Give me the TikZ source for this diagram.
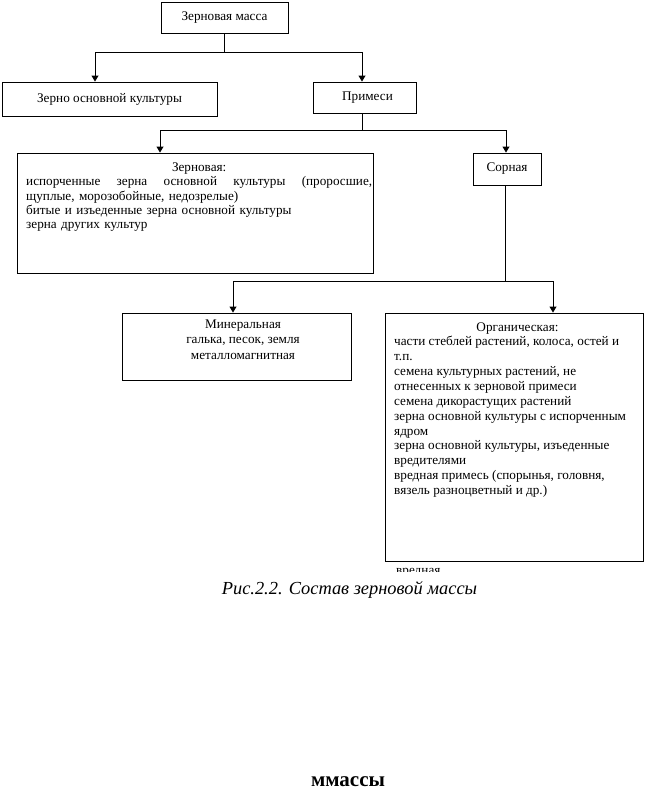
\documentclass[tikz,border=0pt]{standalone}
\usepackage{fontspec}
\setmainfont{Liberation Serif}
\usetikzlibrary{arrows.meta}
\begin{document}
\begin{tikzpicture}[x=1pt,y=-1pt,
  box/.style={draw,line width=0.9pt,inner sep=0pt,font=\fontsize{13.2}{14.3}\selectfont},
  txt/.style={inner sep=0pt,font=\fontsize{13.2}{14.3}\selectfont},
  conn/.style={line width=0.9pt},
  arr/.style={line width=0.9pt,-{Triangle[width=7pt,length=6pt]}}]
\useasboundingbox (0,0) rectangle (645,790);
% boxes
\node[box,minimum width=127pt,minimum height=31pt] (mass) at (224.5,17.5) {\raisebox{2pt}{Зерновая масса}};
\node[box,minimum width=215pt,minimum height=34pt] (main) at (109.5,99) {\raisebox{2pt}{Зерно основной культуры}};
\node[box,minimum width=103pt,minimum height=31pt] (imp) at (364.5,97.5) {\hspace*{6pt}Примеси};
\node[box,minimum width=356pt,minimum height=120pt] (grain) at (195,213) {};
\node[box,minimum width=68pt,minimum height=32pt] (weed) at (507,169) {\raisebox{2pt}{Сорная}};
\node[box,minimum width=229pt,minimum height=67pt] (min) at (236.5,346.5) {};
\node[box,minimum width=258pt,minimum height=248pt] (org) at (514,437) {};
% texts in boxes
\node[txt,anchor=north west,text width=346pt,align=left] (grainT) at (26,162.5)
  {\makebox[346pt]{Зерновая:}\\
   \makebox[346pt][l]{испорченные\hfill зерна\hfill основной\hfill культуры\hfill (проросшие,}\\
   щуплые, морозобойные, недозрелые)\\
   битые и изъеденные зерна основной культуры\\
   зерна других культур};
\node[txt,anchor=north,align=center,font=\fontsize{13.2}{15.5}\selectfont] (minT) at (243,319.5)
  {Минеральная\\галька, песок, земля\\металломагнитная};
\node[txt,anchor=base] (orgH) at (517.5,331.5) {Органическая:};
\node[txt,anchor=north west,align=left,font=\fontsize{13.2}{14.9}\selectfont] (orgT) at (394,336)
  {части стеблей растений, колоса, остей и\\
   т.п.\\
   семена культурных растений, не\\
   отнесенных к зерновой примеси\\
   семена дикорастущих растений\\
   зерна основной культуры с испорченным\\
   ядром\\
   зерна основной культуры, изъеденные\\
   вредителями\\
   вредная примесь (спорынья, головня,\\
   вязель разноцветный и др.)};
% clipped leftover text
\begin{scope}
  \clip (380,560) rectangle (470,571.5);
  \node[txt,anchor=base west] (cut) at (396,574) {вредная};
\end{scope}
% caption
\node[inner sep=0pt,font=\fontsize{18.4}{21}\selectfont\itshape] (cap) at (349.5,590) {Рис.2.2. Состав зерновой массы};
\node[inner sep=0pt,anchor=base,font=\fontsize{21}{24}\selectfont\bfseries] (mm) at (348,786.5) {ммассы};
% connectors
\coordinate (b1) at (224.5,52);
\coordinate (b1l) at (95,52);
\coordinate (b1r) at (362,52);
\draw[conn] (mass.south) -- (b1);
\draw[conn] (b1l) -- (b1r);
\draw[arr] (b1l) -- (b1l |- main.north);
\draw[arr] (b1r) -- (b1r |- imp.north);
\coordinate (b2) at (362,130);
\coordinate (b2l) at (160,130);
\coordinate (b2r) at (506,130);
\draw[conn] (b2 |- imp.south) -- (b2);
\draw[conn] (b2l) -- (b2r);
\draw[arr] (b2l) -- (b2l |- grain.north);
\draw[arr] (b2r) -- (b2r |- weed.north);
\coordinate (b3) at (505,281);
\coordinate (b3l) at (233,281);
\coordinate (b3r) at (553,281);
\draw[conn] (b3 |- weed.south) -- (b3);
\draw[conn] (b3l) -- (b3r);
\draw[arr] (b3l) -- (b3l |- min.north);
\draw[arr] (b3r) -- (b3r |- org.north);
\end{tikzpicture}
\end{document}
